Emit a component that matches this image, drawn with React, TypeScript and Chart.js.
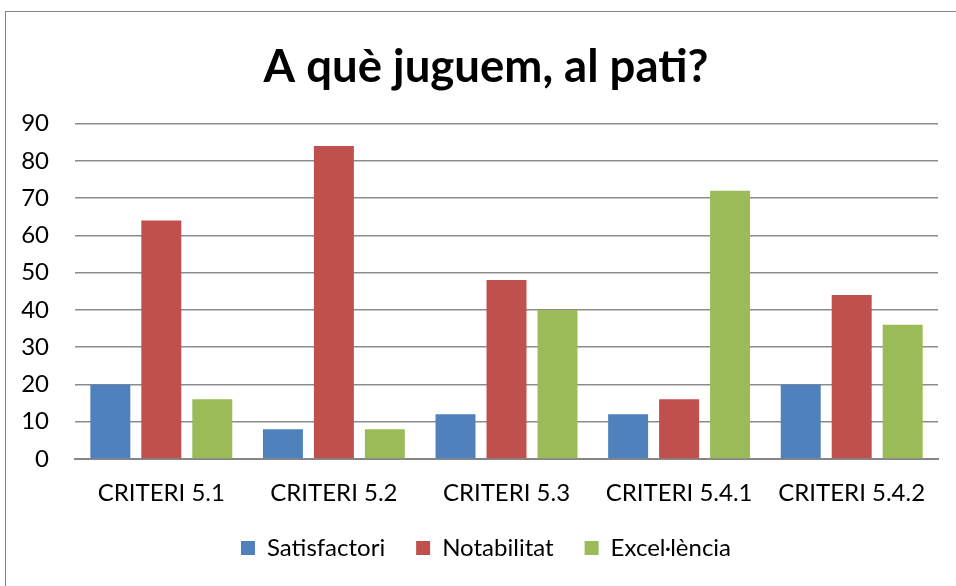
import React, { useEffect, useRef } from "react";
import { Chart, registerables } from "chart.js";

Chart.register(...registerables);

const categories = ["CRITERI 5.1", "CRITERI 5.2", "CRITERI 5.3", "CRITERI 5.4.1", "CRITERI 5.4.2"];
const satisfactori = [20, 8, 12, 12, 20];
const notabilitat = [64, 84, 48, 16, 44];
const excellencia = [16, 8, 40, 72, 36];
const seriesNames = ["Satisfactori", "Notabilitat", "Excel·lència"];
const seriesColors = ["#4F81BD", "#C0504D", "#9BBB59"];
const titleText = "A què juguem, al pati?";
const yMin = 0;
const yMax = 90;
const yStep = 10;

const FONT = "Lato, 'Open Sans', sans-serif";

const shiftBlocks = {
  id: "shiftBlocks",
  afterLayout(chart: any) {
    if (chart.titleBlock) chart.titleBlock.left = 34;
    if (chart.legend) chart.legend.left = 34;
  },
};

export default function App() {
  const ref = useRef<HTMLCanvasElement | null>(null);

  useEffect(() => {
    if (!ref.current) return;
    const values = [satisfactori, notabilitat, excellencia];
    const chart = new Chart(ref.current, {
      type: "bar",
      data: {
        labels: categories,
        datasets: seriesNames.map((name, i) => ({
          label: name,
          data: values[i],
          backgroundColor: seriesColors[i],
          borderWidth: 0,
          categoryPercentage: 0.886,
          barPercentage: 0.784,
        })),
      },
      plugins: [shiftBlocks],
      options: {
        animation: false,
        responsive: false,
        maintainAspectRatio: false,
        layout: { padding: { left: 0, right: 18, top: 0, bottom: 16 } },
        plugins: {
          title: {
            display: true,
            text: titleText,
            color: "#000",
            font: { family: FONT, size: 45.5, weight: "bold" },
            padding: { top: 40, bottom: 29 },
          },
          legend: {
            position: "bottom",
            labels: {
              color: "#000",
              font: { family: FONT, size: 24 },
              boxWidth: 14,
              boxHeight: 14,
              padding: 31,
            },
          },
          tooltip: { enabled: false },
        },
        scales: {
          x: {
            grid: { display: false, drawTicks: false },
            border: { display: true, color: "#868686", width: 2 },
            ticks: { color: "#000", font: { family: FONT, size: 24 }, padding: 20 },
            afterFit: (scale: any) => {
              scale.height = 46;
            },
          },
          y: {
            min: yMin,
            max: yMax,
            ticks: {
              stepSize: yStep,
              color: "#000",
              font: { family: FONT, size: 24 },
              padding: 26,
            },
            grid: { color: "#8c8c8c", lineWidth: 1.5, drawTicks: false },
            border: { display: false },
            afterFit: (scale: any) => {
              scale.width = 75;
            },
          },
        },
      },
    });
    return () => chart.destroy();
  }, []);

  return (
    <div style={{ position: "fixed", left: 0, top: 0, width: 956, height: 586, background: "#fff" }}>
      <div
        style={{
          position: "absolute",
          left: 5,
          top: 11,
          width: 1000,
          height: 700,
          borderLeft: "1.5px solid #868686",
          borderTop: "1.5px solid #868686",
          boxSizing: "border-box",
        }}
      />
      <canvas ref={ref} width={956} height={586} style={{ position: "absolute", left: 0, top: 0, width: 956, height: 586 }} />
    </div>
  );
}
